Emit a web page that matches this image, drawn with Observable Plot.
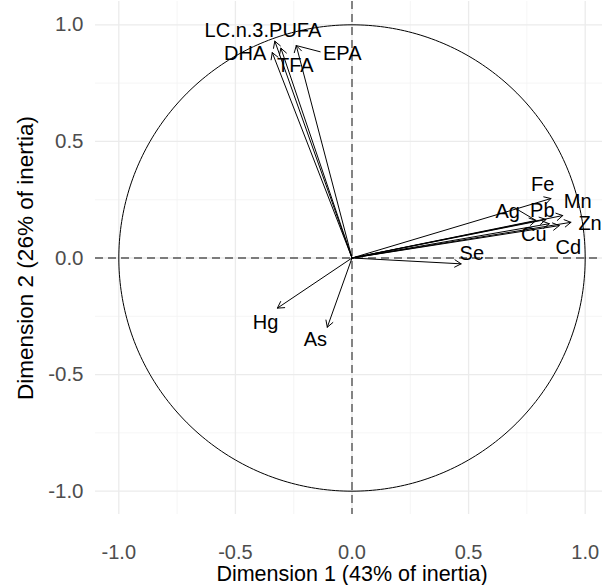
<!DOCTYPE html>
<html><head><meta charset="utf-8">
<script src="https://cdn.jsdelivr.net/npm/d3@7"></script>
<script src="https://cdn.jsdelivr.net/npm/@observablehq/plot@0.6"></script>
<style>body{margin:0;background:#fff;} svg{display:block;}</style>
</head><body><div id="chart"></div>
<script>
const variables = ["LC.n.3.PUFA","DHA","TFA","EPA","Fe","Mn","Ag","Pb","Zn","Cu","Cd","Se","Hg","As"];
const dim1 = [-0.331,-0.342,-0.305,-0.239,0.853,0.904,0.789,0.832,0.939,0.846,0.889,0.468,-0.320,-0.106];
const dim2 = [0.930,0.881,0.900,0.911,0.255,0.182,0.161,0.165,0.153,0.147,0.139,-0.025,-0.215,-0.297];
const labelX = [-0.382,-0.458,-0.243,-0.042,0.818,0.968,0.668,0.816,1.021,0.780,0.928,0.514,-0.371,-0.157];
const labelY = [0.975,0.878,0.826,0.876,0.313,0.243,0.199,0.204,0.147,0.099,0.046,0.018,-0.275,-0.352];
const linkNames = ["EPA","Ag"];
const linkX2 = [-0.135,0.711];
const linkY2 = [0.884,0.207];
const xTicks = [-1,-0.5,0,0.5,1];
const yTicks = [-1,-0.5,0,0.5,1];
const minorTicks = [-0.75,-0.25,0.25,0.75];
const xTitle = "Dimension 1 (43% of inertia)";
const yTitle = "Dimension 2 (26% of inertia)";

const vars = variables.map((v,i)=>({name:v,x:dim1[i],y:dim2[i],lx:labelX[i],ly:labelY[i]}));
const links = linkNames.map((n,i)=>{const v=vars.find(d=>d.name===n);return {x1:v.x,y1:v.y,x2:linkX2[i],y2:linkY2[i]};});
const circle = d3.range(0,361,1).map(a=>({x:Math.cos(a*Math.PI/180),y:Math.sin(a*Math.PI/180)}));
const fmt = d=>d.toFixed(1);
const font = "Liberation Sans, Arial, Helvetica, sans-serif";

const chart = Plot.plot({
  width:602, height:585,
  marginLeft:95, marginRight:-6, marginTop:1, marginBottom:71,
  style:{fontFamily:font, background:"#fff"},
  x:{domain:[-1.1,1.1], range:[95,608], axis:null},
  y:{domain:[-1.1,1.1], range:[514,1], axis:null},
  marks:[
    Plot.ruleX(minorTicks,{stroke:"#f2f2f2",strokeWidth:0.8}),
    Plot.ruleY(minorTicks,{stroke:"#f2f2f2",strokeWidth:0.8}),
    Plot.ruleX(xTicks,{stroke:"#ebebeb",strokeWidth:1.3}),
    Plot.ruleY(yTicks,{stroke:"#ebebeb",strokeWidth:1.3}),
    Plot.ruleX([0],{stroke:"#555",strokeWidth:1.4,strokeDasharray:"8,5"}),
    Plot.ruleY([0],{stroke:"#555",strokeWidth:1.4,strokeDasharray:"8,5"}),
    Plot.line(circle,{x:"x",y:"y",stroke:"#000",strokeWidth:1}),
    Plot.arrow(vars,{x1:0,y1:0,x2:"x",y2:"y",stroke:"#000",strokeWidth:1,headLength:11,headAngle:60}),
    Plot.link(links,{x1:"x1",y1:"y1",x2:"x2",y2:"y2",stroke:"#000",strokeWidth:1}),
    Plot.text(vars,{x:"lx",y:"ly",text:"name",fontSize:20,fill:"#000"}),
    Plot.text(xTicks,{x:d=>d,frameAnchor:"bottom",lineAnchor:"middle",dy:38,text:fmt,fontSize:20,fill:"#4d4d4d"}),
    Plot.text(yTicks,{y:d=>d,frameAnchor:"left",dx:-12,textAnchor:"end",text:fmt,fontSize:20.5,fill:"#4d4d4d"}),
    Plot.text([xTitle],{x:0,frameAnchor:"bottom",lineAnchor:"middle",dy:60,text:d=>d,fontSize:21.5,fill:"#000"}),
    Plot.text([yTitle],{y:0,frameAnchor:"left",dx:-70,rotate:-90,textAnchor:"middle",text:d=>d,fontSize:22.5,fill:"#000"})
  ]
});
document.getElementById("chart").appendChild(chart);
</script>
</body></html>
